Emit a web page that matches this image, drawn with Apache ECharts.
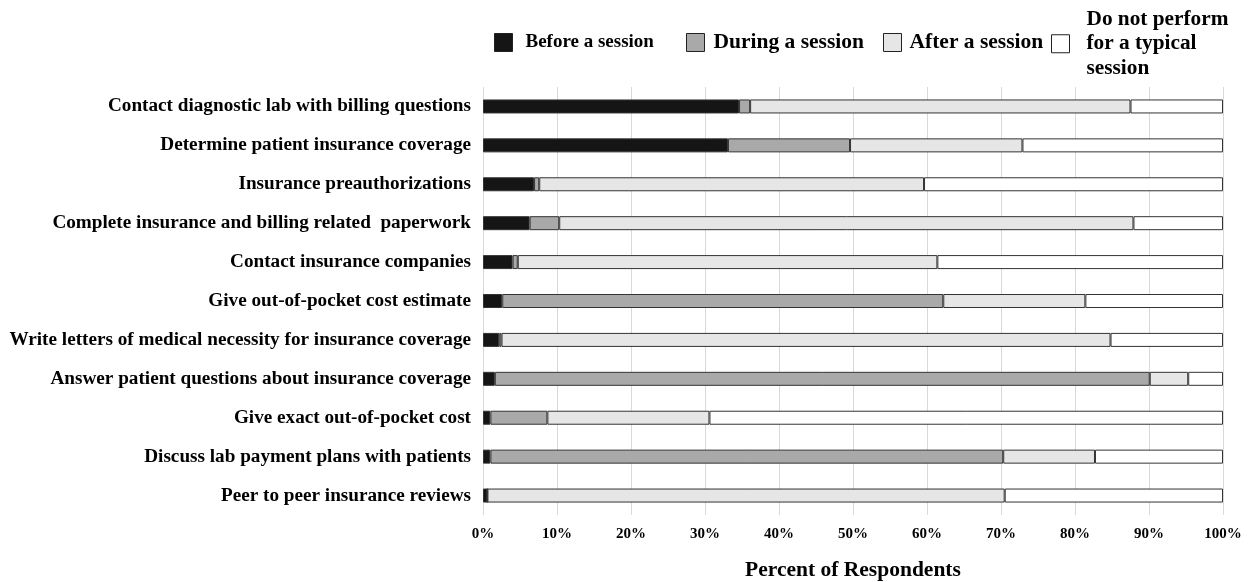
<!DOCTYPE html>
<html>
<head>
<meta charset="utf-8">
<script src="https://cdn.jsdelivr.net/npm/echarts@6/dist/echarts.min.js"></script>
<style>
html,body{margin:0;padding:0;background:#fff;}
#c{width:1251px;height:582px;}
</style>
</head>
<body>
<div id="c"></div>
<script>
const categories = [
  "Contact diagnostic lab with billing questions",
  "Determine patient insurance coverage",
  "Insurance preauthorizations",
  "Complete insurance and billing related  paperwork",
  "Contact insurance companies",
  "Give out-of-pocket cost estimate",
  "Write letters of medical necessity for insurance coverage",
  "Answer patient questions about insurance coverage",
  "Give exact out-of-pocket cost",
  "Discuss lab payment plans with patients",
  "Peer to peer insurance reviews"
];
const beforeSession = [34.6, 33.1, 6.9, 6.3, 4.0, 2.6, 2.2, 1.6, 1.0, 1.0, 0.6];
const duringSession = [1.5, 16.5, 0.7, 4.0, 0.7, 59.6, 0.3, 88.5, 7.7, 69.3, 0];
const afterSession  = [51.4, 23.3, 52.0, 77.6, 56.7, 19.2, 82.3, 5.2, 21.9, 12.4, 69.9];
const notPerformed  = [12.5, 27.1, 40.4, 12.1, 38.6, 18.6, 15.2, 4.7, 69.4, 17.3, 29.5];
const xTicks = [0, 10, 20, 30, 40, 50, 60, 70, 80, 90, 100];

const seriesNames = ["Before a session", "During a session", "After a session", "Do not perform\nfor a typical\nsession"];
const seriesData = [beforeSession, duringSession, afterSession, notPerformed];
const colors = ["#151515", "#a9a9a9", "#e6e6e6", "#ffffff"];

const font = "'Liberation Serif', 'Times New Roman', serif";
const chart = echarts.init(document.getElementById('c'), null, {renderer: 'canvas'});

const legendPos = [
  {left: 494, top: 30, size: 19, pad: 8, lh: 25},
  {left: 686, top: 30, size: 21.5, pad: 4, lh: 25},
  {left: 883, top: 30, size: 21.5, pad: 3, lh: 25},
  {left: 1051, top: 7, size: 21.3, pad: 12, lh: 24.5}
];

chart.setOption({
  animation: false,
  backgroundColor: '#fff',
  legend: seriesNames.map((n, i) => ({
    data: [n],
    left: legendPos[i].left,
    top: legendPos[i].top,
    padding: 0,
    itemWidth: 18,
    itemHeight: 18,
    icon: 'rect',
    itemStyle: {borderColor: '#222', borderWidth: 1},
    textStyle: {
      fontFamily: font, fontWeight: 'bold', fontSize: legendPos[i].size, color: '#000',
      lineHeight: legendPos[i].lh, padding: [0, 0, 0, legendPos[i].pad]
    }
  })),
  grid: {left: 483, right: 28, top: 87, bottom: 67, outerBoundsMode: 'none', containLabel: false},
  xAxis: {
    type: 'value', min: xTicks[0], max: xTicks[xTicks.length - 1], interval: 10,
    axisLine: {show: false}, axisTick: {show: false},
    splitLine: {show: true, lineStyle: {color: '#d9d9d9', width: 1}},
    axisLabel: {
      formatter: v => v + '%', fontFamily: font, fontWeight: 'bold', fontSize: 15, color: '#000', margin: 12
    },
    name: 'Percent of Respondents', nameLocation: 'middle', nameGap: 44,
    nameTextStyle: {fontFamily: font, fontWeight: 'bold', fontSize: 21.5, color: '#000'}
  },
  yAxis: {
    type: 'category', data: categories, inverse: true,
    axisLine: {show: false}, axisTick: {show: false},
    axisLabel: {fontFamily: font, fontWeight: 'bold', fontSize: 19.2, color: '#000', margin: 12}
  },
  series: seriesNames.map((n, i) => ({
    name: n, type: 'bar', stack: 'total', barWidth: 14,
    data: seriesData[i],
    itemStyle: {color: colors[i], borderColor: '#333', borderWidth: 1}
  }))
});
</script>
</body>
</html>
